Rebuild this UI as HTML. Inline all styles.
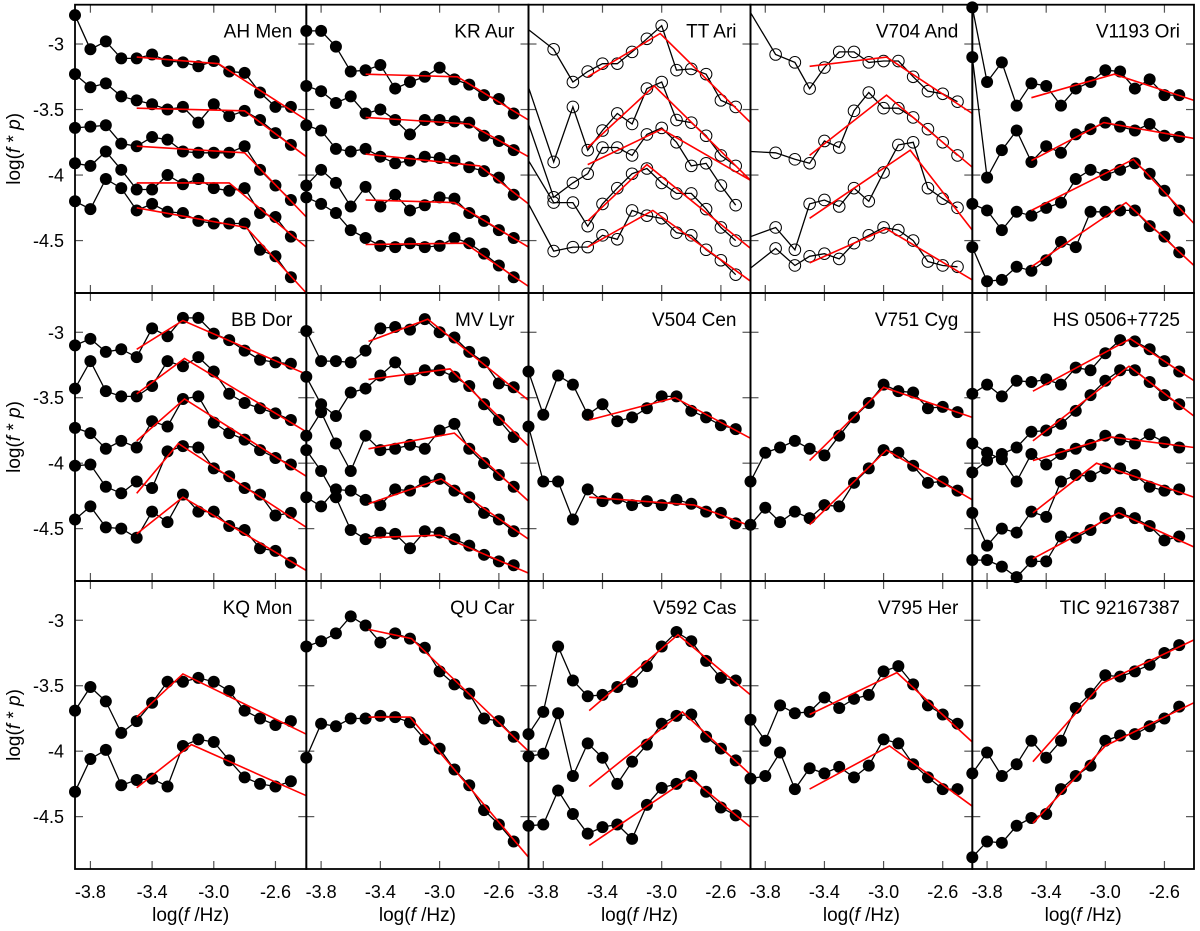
<!DOCTYPE html>
<html><head><meta charset="utf-8"><style>
html,body{margin:0;padding:0;background:#fff}
svg{display:block}
text{font-family:"Liberation Sans",Arial,sans-serif;fill:#000}
</style></head><body>
<svg id="chart" width="1200" height="931" viewBox="0 0 1200 931" xmlns="http://www.w3.org/2000/svg"></svg>
<script>
// ---- data ----
const freqs = [-3.9,-3.8,-3.7,-3.6,-3.5,-3.4,-3.3,-3.2,-3.1,-3.0,-2.9,-2.8,-2.7,-2.6,-2.5];
const freqsOpen = [-3.73,-3.6,-3.5,-3.4,-3.3,-3.2,-3.1,-3.0,-2.9,-2.8,-2.7,-2.6,-2.5];
const xTicks = [-3.8,-3.4,-3.0,-2.6];
const xTickLabels = ["-3.8","-3.4","-3.0","-2.6"];
const yTicks = [-3,-3.5,-4,-4.5];
const yTickLabels = ["-3","-3.5","-4","-4.5"];
const panelNames = ["AH Men","KR Aur","TT Ari","V704 And","V1193 Ori","BB Dor","MV Lyr","V504 Cen","V751 Cyg","HS 0506+7725","KQ Mon","QU Car","V592 Cas","V795 Her","TIC 92167387"];

const ahMen = [
 [-2.78,-3.04,-2.98,-3.11,-3.11,-3.08,-3.13,-3.14,-3.17,-3.13,-3.21,-3.22,-3.37,-3.48,-3.48],
 [-3.23,-3.33,-3.30,-3.40,-3.43,-3.46,-3.50,-3.48,-3.60,-3.46,-3.55,-3.51,-3.58,-3.68,-3.77],
 [-3.64,-3.63,-3.62,-3.76,-3.78,-3.71,-3.73,-3.82,-3.83,-3.83,-3.83,-3.78,-3.96,-4.08,-4.19],
 [-3.91,-3.93,-3.82,-3.96,-4.11,-4.11,-4.00,-4.07,-4.03,-4.10,-4.12,-4.10,-4.29,-4.32,-4.47],
 [-4.20,-4.26,-4.03,-4.10,-4.27,-4.22,-4.28,-4.29,-4.35,-4.37,-4.37,-4.37,-4.57,-4.62,-4.78]];
const ahMenFitX = [[-3.5,-2.97],[-3.5,-2.80],[-3.5,-2.80],[-3.5,-2.90],[-3.5,-2.79]];
const ahMenFitY = [[-3.10,-3.15,-3.58],[-3.49,-3.51,-3.86],[-3.78,-3.83,-4.32],[-4.06,-4.06,-4.55],[-4.25,-4.40,-4.90]];

const krAur = [
 [-2.90,-2.90,-3.02,-3.21,-3.20,-3.16,-3.34,-3.29,-3.25,-3.18,-3.27,-3.31,-3.39,-3.42,-3.53],
 [-3.32,-3.36,-3.45,-3.40,-3.53,-3.50,-3.58,-3.69,-3.58,-3.58,-3.59,-3.60,-3.70,-3.74,-3.81],
 [-3.62,-3.66,-3.80,-3.82,-3.80,-3.86,-3.91,-3.89,-3.86,-3.87,-3.89,-3.94,-3.97,-4.02,-4.15],
 [-4.08,-3.96,-4.06,-4.24,-4.09,-4.24,-4.15,-4.27,-4.23,-4.17,-4.18,-4.29,-4.35,-4.42,-4.48],
 [-4.17,-4.22,-4.29,-4.42,-4.48,-4.54,-4.55,-4.52,-4.55,-4.54,-4.48,-4.52,-4.60,-4.69,-4.78]];
const krAurFitX = [[-3.5,-2.88],[-3.5,-2.80],[-3.5,-2.73],[-3.5,-2.90],[-3.5,-2.83]];
const krAurFitY = [[-3.23,-3.25,-3.58],[-3.56,-3.61,-3.86],[-3.84,-3.93,-4.22],[-4.19,-4.21,-4.55],[-4.53,-4.52,-4.85]];

const ttAriEdge = [-2.89,-3.33,-3.61,-3.89,-4.22];
const ttAri = [
 [-3.04,-3.29,-3.21,-3.15,-3.15,-3.06,-2.96,-2.86,-3.20,-3.19,-3.23,-3.43,-3.48],
 [-3.90,-3.48,-3.81,-3.66,-3.53,-3.61,-3.34,-3.29,-3.58,-3.60,-3.70,-3.85,-3.93],
 [-4.17,-4.06,-3.99,-3.79,-3.79,-3.85,-3.69,-3.64,-3.75,-3.93,-3.91,-4.08,-4.23],
 [-4.21,-4.21,-4.39,-4.22,-4.10,-3.99,-3.95,-4.06,-4.14,-4.14,-4.26,-4.40,-4.50],
 [-4.58,-4.55,-4.55,-4.46,-4.49,-4.27,-4.31,-4.33,-4.44,-4.46,-4.57,-4.65,-4.76]];
const ttAriFitX = [[-3.5,-3.01],[-3.5,-3.05],[-3.5,-3.0],[-3.5,-3.10],[-3.5,-3.06]];
const ttAriFitY = [[-3.25,-2.92,-3.60],[-3.79,-3.32,-4.04],[-3.92,-3.65,-4.04],[-4.35,-3.92,-4.56],[-4.55,-4.27,-4.81]];

const v704Edge = [-2.76,-3.82,-4.47,-4.71];
const v704 = [
 [-3.08,-3.14,-3.34,-3.18,-3.06,-3.06,-3.14,-3.13,-3.13,-3.25,-3.36,-3.38,-3.44],
 [-3.83,-3.88,-3.91,-3.74,-3.79,-3.51,-3.37,-3.49,-3.49,-3.56,-3.65,-3.75,-3.85],
 [-4.40,-4.57,-4.22,-4.19,-4.24,-4.10,-4.20,-3.98,-3.77,-3.75,-4.10,-4.18,-4.25],
 [-4.56,-4.69,-4.62,-4.60,-4.64,-4.52,-4.46,-4.40,-4.42,-4.50,-4.66,-4.69,-4.70]];
const v704FitX = [[-3.5,-2.98],[-3.5,-2.98],[-3.5,-2.82],[-3.5,-2.98]];
const v704FitY = [[-3.17,-3.10,-3.53],[-3.85,-3.39,-3.94],[-4.33,-3.81,-4.42],[-4.67,-4.41,-4.80]];

const v1193 = [
 [-2.72,-3.29,-3.14,-3.47,-3.30,-3.32,-3.47,-3.34,-3.29,-3.20,-3.21,-3.34,-3.27,-3.39,-3.39],
 [-3.10,-4.02,-3.81,-3.66,-3.90,-3.78,-3.83,-3.69,-3.65,-3.60,-3.63,-3.66,-3.61,-3.70,-3.71],
 [-4.22,-4.27,-4.42,-4.28,-4.31,-4.25,-4.21,-4.03,-3.96,-4.00,-3.96,-3.91,-3.99,-4.12,-4.27],
 [-4.55,-4.81,-4.80,-4.70,-4.73,-4.65,-4.51,-4.55,-4.28,-4.28,-4.27,-4.27,-4.39,-4.47,-4.59]];
const v1193FitX = [[-3.5,-2.94],[-3.5,-3.01],[-3.5,-2.81],[-3.5,-2.86]];
const v1193FitY = [[-3.41,-3.23,-3.43],[-3.89,-3.60,-3.72],[-4.27,-3.88,-4.37],[-4.70,-4.21,-4.69]];

const bbDor = [
 [-3.10,-3.05,-3.15,-3.13,-3.19,-2.97,-3.03,-2.89,-2.89,-3.01,-3.06,-3.14,-3.21,-3.23,-3.24],
 [-3.43,-3.22,-3.45,-3.49,-3.49,-3.41,-3.22,-3.26,-3.19,-3.30,-3.47,-3.54,-3.58,-3.62,-3.67],
 [-3.73,-3.77,-3.89,-3.83,-3.88,-3.68,-3.72,-3.51,-3.49,-3.69,-3.77,-3.82,-3.90,-3.96,-4.01],
 [-4.02,-4.01,-4.18,-4.23,-4.14,-4.19,-3.91,-3.87,-3.88,-4.04,-4.10,-4.19,-4.24,-4.40,-4.38],
 [-4.43,-4.33,-4.49,-4.50,-4.57,-4.37,-4.45,-4.24,-4.37,-4.37,-4.48,-4.51,-4.65,-4.67,-4.76]];
const bbDorFitX = [[-3.5,-3.20],[-3.5,-3.19],[-3.5,-3.19],[-3.5,-3.23],[-3.5,-3.20]];
const bbDorFitY = [[-3.13,-2.91,-3.32],[-3.47,-3.20,-3.76],[-3.83,-3.51,-4.10],[-4.23,-3.85,-4.49],[-4.54,-4.26,-4.82]];

const mvLyr = [
 [-2.99,-3.22,-3.22,-3.23,-3.14,-2.97,-2.96,-2.98,-2.90,-3.00,-3.04,-3.15,-3.23,-3.39,-3.42],
 [-3.34,-3.55,-3.64,-3.46,-3.43,-3.33,-3.23,-3.36,-3.29,-3.29,-3.34,-3.41,-3.55,-3.67,-3.80],
 [-3.79,-3.61,-3.85,-4.06,-3.79,-3.90,-3.89,-3.86,-3.89,-3.75,-3.70,-3.89,-4.00,-4.09,-4.18],
 [-4.26,-4.33,-4.20,-4.21,-4.28,-4.32,-4.20,-4.21,-4.14,-4.12,-4.21,-4.26,-4.38,-4.43,-4.52],
 [-3.90,-4.06,-4.26,-4.51,-4.58,-4.53,-4.54,-4.65,-4.52,-4.53,-4.58,-4.63,-4.70,-4.75,-4.78]];
const mvLyrFitX = [[-3.48,-3.08],[-3.48,-2.93],[-3.48,-2.90],[-3.48,-2.99],[-3.48,-3.0]];
const mvLyrFitY = [[-3.07,-2.90,-3.52],[-3.36,-3.28,-3.87],[-3.89,-3.77,-4.29],[-4.31,-4.12,-4.58],[-4.57,-4.55,-4.84]];

const v504 = [
 [-3.30,-3.63,-3.33,-3.40,-3.63,-3.55,-3.68,-3.65,-3.58,-3.49,-3.49,-3.60,-3.65,-3.71,-3.74],
 [-3.72,-4.14,-4.14,-4.43,-4.20,-4.29,-4.27,-4.32,-4.29,-4.32,-4.28,-4.31,-4.37,-4.38,-4.46]];
const v504FitX = [[-3.49,-2.91],[-3.49,-2.78]];
const v504FitY = [[-3.67,-3.50,-3.81],[-4.26,-4.32,-4.48]];

const v751 = [
 [-4.14,-3.92,-3.88,-3.83,-3.89,-3.94,-3.79,-3.65,-3.54,-3.40,-3.45,-3.46,-3.58,-3.57,-3.61],
 [-4.47,-4.34,-4.45,-4.37,-4.42,-4.32,-4.33,-4.15,-4.04,-3.90,-3.92,-4.02,-4.15,-4.14,-4.21]];
const v751FitX = [[-3.5,-3.0],[-3.5,-2.98]];
const v751FitY = [[-3.98,-3.42,-3.65],[-4.47,-3.90,-4.28]];

const hs0506 = [
 [-3.47,-3.40,-3.49,-3.37,-3.38,-3.36,-3.40,-3.27,-3.29,-3.16,-3.06,-3.07,-3.13,-3.22,-3.30],
 [-4.07,-3.98,-3.93,-3.88,-3.76,-3.75,-3.70,-3.60,-3.48,-3.37,-3.29,-3.29,-3.38,-3.48,-3.55],
 [-3.85,-3.92,-3.97,-4.14,-3.93,-4.01,-3.93,-3.89,-3.86,-3.79,-3.82,-3.85,-3.78,-3.84,-3.88],
 [-4.38,-4.63,-4.50,-4.53,-4.37,-4.41,-4.14,-4.09,-4.10,-4.04,-4.04,-4.09,-4.18,-4.21,-4.20],
 [-4.74,-4.74,-4.79,-4.87,-4.75,-4.75,-4.56,-4.57,-4.51,-4.42,-4.38,-4.42,-4.48,-4.59,-4.56]];
const hs0506FitX = [[-3.49,-2.83],[-3.49,-2.84],[-3.49,-2.96],[-3.49,-3.06],[-3.49,-2.91]];
const hs0506FitY = [[-3.45,-3.05,-3.37],[-3.83,-3.26,-3.64],[-3.98,-3.80,-3.88],[-4.38,-4.00,-4.26],[-4.73,-4.38,-4.64]];

const kqMon = [
 [-3.69,-3.51,-3.62,-3.86,-3.77,-3.63,-3.47,-3.47,-3.44,-3.47,-3.54,-3.69,-3.75,-3.80,-3.77],
 [-4.31,-4.06,-3.99,-4.26,-4.22,-4.21,-4.27,-3.96,-3.91,-3.93,-4.07,-4.20,-4.25,-4.27,-4.23]];
const kqMonFitX = [[-3.5,-3.20],[-3.5,-3.145]];
const kqMonFitY = [[-3.74,-3.41,-3.87],[-4.28,-3.95,-4.34]];

const quCar = [
 [-3.20,-3.16,-3.10,-2.97,-3.04,-3.17,-3.10,-3.14,-3.21,-3.39,-3.49,-3.56,-3.75,-3.77,-3.89],
 [-4.05,-3.79,-3.81,-3.75,-3.75,-3.73,-3.74,-3.78,-3.91,-3.98,-4.14,-4.26,-4.45,-4.56,-4.69]];
const quCarFitX = [[-3.48,-3.19],[-3.48,-3.20]];
const quCarFitY = [[-3.07,-3.14,-4.00],[-3.74,-3.74,-4.81]];

const v592 = [
 [-3.87,-3.70,-3.20,-3.46,-3.58,-3.57,-3.51,-3.47,-3.35,-3.20,-3.09,-3.16,-3.31,-3.44,-3.46],
 [-4.04,-4.02,-3.71,-4.19,-3.94,-4.05,-4.25,-4.08,-3.95,-3.79,-3.73,-3.72,-3.89,-3.98,-4.07],
 [-4.57,-4.56,-4.30,-4.48,-4.63,-4.58,-4.56,-4.67,-4.41,-4.28,-4.25,-4.19,-4.31,-4.43,-4.49]];
const v592FitX = [[-3.49,-2.89],[-3.49,-2.86],[-3.49,-2.81]];
const v592FitY = [[-3.69,-3.11,-3.57],[-4.27,-3.70,-4.18],[-4.72,-4.20,-4.58]];

const v795 = [
 [-3.76,-3.92,-3.65,-3.71,-3.70,-3.59,-3.67,-3.60,-3.57,-3.39,-3.35,-3.49,-3.65,-3.72,-3.79],
 [-4.21,-4.19,-4.01,-4.29,-4.13,-4.17,-4.12,-4.20,-4.11,-3.91,-3.94,-4.10,-4.20,-4.29,-4.29]];
const v795FitX = [[-3.5,-2.91],[-3.5,-2.96]];
const v795FitY = [[-3.72,-3.40,-3.93],[-4.29,-3.96,-4.42]];

const tic = [
 [-4.17,-4.01,-4.19,-4.10,-3.92,-4.05,-3.92,-3.67,-3.56,-3.42,-3.43,-3.39,-3.34,-3.25,-3.19],
 [-4.81,-4.69,-4.70,-4.57,-4.51,-4.48,-4.29,-4.19,-4.11,-3.92,-3.88,-3.87,-3.81,-3.75,-3.66]];
const ticFitX = [[-3.49,-3.02],[-3.49,-3.0]];
const ticFitY = [[-4.08,-3.48,-3.15],[-4.55,-3.96,-3.63]];

// ---- layout (not data) ----
const colEdges = [75,306.3,528.5,750.5,972.3,1194];
const rowEdges = [4.7,293,581,869];
const X0=-3.9, X1=-2.4, Y0=-4.9, Y1=-2.7;
const panels = [
 {s:ahMen,fx:ahMenFitX,fy:ahMenFitY},{s:krAur,fx:krAurFitX,fy:krAurFitY},
 {s:ttAri,fx:ttAriFitX,fy:ttAriFitY,open:true,edge:ttAriEdge},
 {s:v704,fx:v704FitX,fy:v704FitY,open:true,edge:v704Edge},
 {s:v1193,fx:v1193FitX,fy:v1193FitY},
 {s:bbDor,fx:bbDorFitX,fy:bbDorFitY},{s:mvLyr,fx:mvLyrFitX,fy:mvLyrFitY},
 {s:v504,fx:v504FitX,fy:v504FitY},{s:v751,fx:v751FitX,fy:v751FitY},
 {s:hs0506,fx:hs0506FitX,fy:hs0506FitY},
 {s:kqMon,fx:kqMonFitX,fy:kqMonFitY},{s:quCar,fx:quCarFitX,fy:quCarFitY},
 {s:v592,fx:v592FitX,fy:v592FitY},{s:v795,fx:v795FitX,fy:v795FitY},
 {s:tic,fx:ticFitX,fy:ticFitY}];

const svg = document.getElementById('chart');
const NS = 'http://www.w3.org/2000/svg';
function mk(tag, attrs, parent){
  const e = document.createElementNS(NS, tag);
  for (const k in attrs) e.setAttribute(k, attrs[k]);
  (parent||svg).appendChild(e);
  return e;
}
function slug(s){return s.toLowerCase().replace(/[^a-z0-9]+/g,'-').replace(/-$/,'');}

const frameG = mk('g', {});
panels.forEach((p, i) => {
  const c = i % 5, r = Math.floor(i / 5);
  const L = colEdges[c], R = colEdges[c+1], T = rowEdges[r], B = rowEdges[r+1];
  const sx = v => L + (v - X0) / (X1 - X0) * (R - L);
  const sy = v => B - (v - Y0) / (Y1 - Y0) * (B - T);
  const g = mk('g', {});
  
  
  // ticks
  xTicks.forEach(t => {
    const x = sx(t);
    const a = mk('line', {x1:x, x2:x, y1:B, y2:B-8, stroke:'#555', 'stroke-width':1.2}, g);
    
    
    const b = mk('line', {x1:x, x2:x, y1:T, y2:T+8, stroke:'#555', 'stroke-width':1.2}, g);
    
    
  });
  yTicks.forEach(t => {
    const y = sy(t);
    const a = mk('line', {x1:L, x2:L+8, y1:y, y2:y, stroke:'#555', 'stroke-width':1.2}, g);
    
    
    const b = mk('line', {x1:R, x2:R-8, y1:y, y2:y, stroke:'#555', 'stroke-width':1.2}, g);
    
    
  });
  // series
  p.s.forEach((vals, k) => {
    const xs = p.open ? freqsOpen : freqs;
    let pts = vals.map((v, j) => sx(xs[j]).toFixed(1) + ',' + sy(v).toFixed(1));
    if (p.edge) pts.unshift(sx(X0).toFixed(1) + ',' + sy(p.edge[k]).toFixed(1));
    const line = mk('polyline', {points: pts.join(' '), fill:'none', stroke:'#000', 'stroke-width':1.3}, g);
    
    
    vals.forEach((v, j) => {
      const dot = mk('circle', {cx: sx(xs[j]), cy: sy(v), r: p.open ? 5.8 : 6,
        fill: p.open ? 'none' : '#000', stroke:'#000', 'stroke-width': p.open ? 1 : 0}, g);
      
      
    });
  });
  // fits
  p.fy.forEach((fy, k) => {
    const fxs = [p.fx[k][0], p.fx[k][1], X1];
    const pts = fxs.map((x, j) => sx(x).toFixed(1) + ',' + sy(fy[j]).toFixed(1)).join(' ');
    const f = mk('polyline', {points: pts, fill:'none', stroke:'#f00', 'stroke-width':1.6}, g);
    
    
  });
  // name
  const t = mk('text', {x: R - 14, y: T + 33, 'text-anchor':'end', 'font-size':19}, g);
  t.textContent = panelNames[i];
  
  
  // frame
  const fr = mk('rect', {x:L, y:T, width:R-L, height:B-T, fill:'none', stroke:'#000', 'stroke-width':1.8}, frameG);
  
  
  // x labels on bottom row
  if (r === 2) {
    xTicks.forEach((tv, j) => {
      const lt = mk('text', {x: sx(tv), y: 898, 'text-anchor':'middle', 'font-size':18});
      lt.textContent = xTickLabels[j];
      
      
    });
    const at = mk('text', {x:(L+R)/2, y:921, 'text-anchor':'middle', 'font-size':19});
    at.innerHTML = 'log(<tspan font-style="italic">f</tspan> /Hz)';
    
    
  }
  if (c === 0) {
    yTicks.forEach((tv, j) => {
      const lt = mk('text', {x: 64, y: sy(tv) + 6.5, 'text-anchor':'end', 'font-size':18});
      lt.textContent = yTickLabels[j];
      
      
    });
    const cy = (T + B) / 2;
    const at = mk('text', {x:0, y:0, 'text-anchor':'middle', 'font-size':19, transform:'translate(20,'+cy+') rotate(-90)'});
    at.innerHTML = 'log(<tspan font-style="italic">f</tspan> * <tspan font-style="italic">p</tspan>)';
    
    
  }
});
svg.appendChild(frameG);
</script>
</body></html>
